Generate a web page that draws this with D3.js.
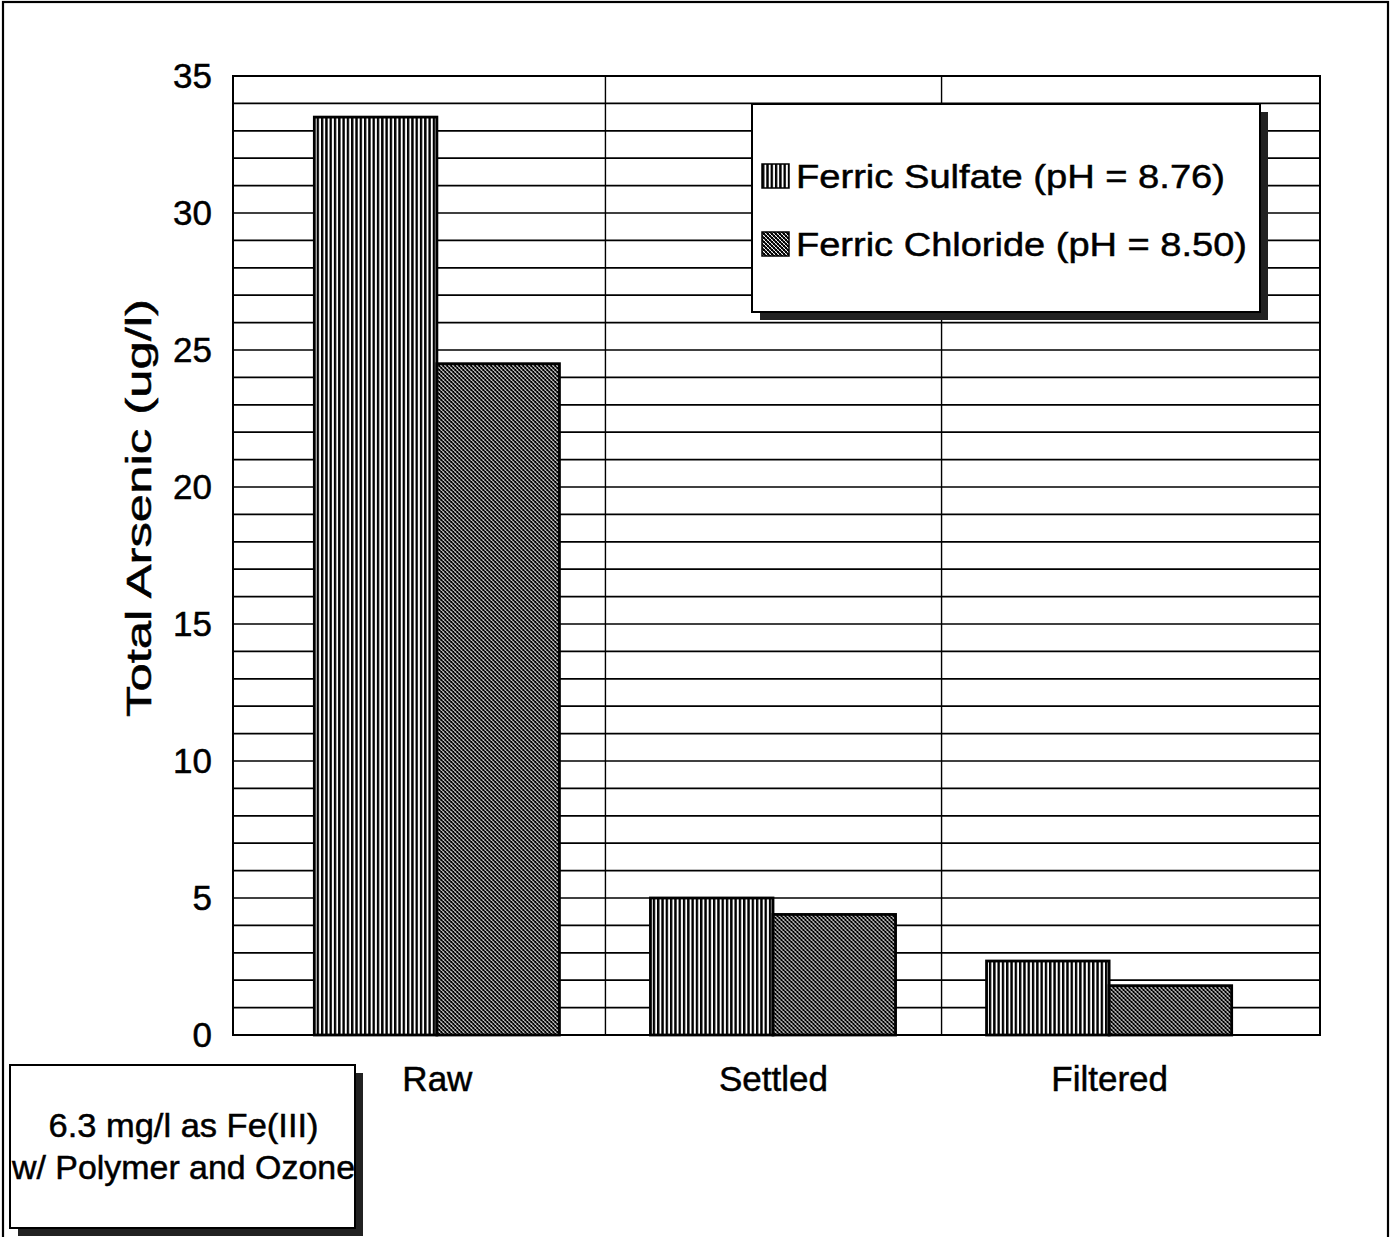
<!DOCTYPE html>
<html>
<head>
<meta charset="utf-8">
<script src="https://cdn.jsdelivr.net/npm/d3@7"></script>
<style>
  html, body { margin: 0; padding: 0; background: #fff; }
  svg { display: block; font-family: "Liberation Sans", Arial, sans-serif; }
</style>
</head>
<body>
<svg id="chart" width="1392" height="1237"></svg>
<script>
const categories = ["Raw", "Settled", "Filtered"];
const seriesNames = ["Ferric Sulfate (pH = 8.76)", "Ferric Chloride (pH = 8.50)"];
const ferricSulfate = [33.5, 5.0, 2.7];
const ferricChloride = [24.5, 4.4, 1.8];
const yTicks = [0, 5, 10, 15, 20, 25, 30, 35];
const yTitle = "Total Arsenic (ug/l)";
const noteLines = ["6.3 mg/l as Fe(III)", "w/ Polymer and Ozone"];

const svg = d3.select("#chart");
const plot = { left: 233, right: 1320, top: 76, bottom: 1035 };
const ink = sel => sel.attr("fill", "#000").attr("stroke", "#000").attr("stroke-width", 0.5);

// patterns
const defs = svg.append("defs");
const pv = defs.append("pattern").attr("id", "pat-vert")
  .attr("patternUnits", "userSpaceOnUse").attr("width", 4.3).attr("height", 10);
pv.append("rect").attr("width", 4.3).attr("height", 10).attr("fill", "#fff");
pv.append("rect").attr("x", 0).attr("width", 2.4).attr("height", 10).attr("fill", "#000");

const pc = defs.append("pattern").attr("id", "pat-cross")
  .attr("patternUnits", "userSpaceOnUse").attr("width", 4).attr("height", 4);
pc.append("rect").attr("width", 4).attr("height", 4).attr("fill", "#fff");
pc.append("path").attr("d", "M0,0 L4,4 M-1,3 L1,5 M3,-1 L5,1")
  .attr("stroke", "#000").attr("stroke-width", 1.6);
pc.append("path").attr("d", "M0,4 L4,0 M-1,1 L1,-1 M3,5 L5,3")
  .attr("stroke", "#000").attr("stroke-width", 1.0);

const patterns = ["url(#pat-vert)", "url(#pat-cross)"];

// outer frame
svg.append("rect").attr("x", 3).attr("y", 2).attr("width", 1385).attr("height", 1240)
  .attr("fill", "none").attr("stroke", "#000").attr("stroke-width", 2.2);

// scales
const y = d3.scaleLinear().domain([0, 35]).range([plot.bottom, plot.top]);
const x0 = d3.scaleBand().domain(categories).range([plot.left - 3, plot.right - 3])
  .paddingInner(0).paddingOuter(0.117);
const x1 = d3.scaleBand().domain(seriesNames).range([45, x0.bandwidth() - 46]).padding(0);

// gridlines every 1 unit
const gridVals = d3.range(0, 36, 1);
svg.append("g").selectAll("line").data(gridVals).join("line")
  .attr("x1", plot.left).attr("x2", plot.right)
  .attr("y1", d => y(d)).attr("y2", d => y(d))
  .attr("stroke", "#000").attr("stroke-width", 1.7);

// vertical category dividers
const dividers = categories.slice(1).map(c => x0(c));
svg.append("g").selectAll("line").data(dividers).join("line")
  .attr("x1", d => d).attr("x2", d => d)
  .attr("y1", plot.top).attr("y2", plot.bottom)
  .attr("stroke", "#000").attr("stroke-width", 1.4);

// plot border
svg.append("rect").attr("x", plot.left).attr("y", plot.top)
  .attr("width", plot.right - plot.left).attr("height", plot.bottom - plot.top)
  .attr("fill", "none").attr("stroke", "#000").attr("stroke-width", 2);

// bars
const data = categories.map((c, i) => ({ cat: c, vals: [ferricSulfate[i], ferricChloride[i]] }));
const groups = svg.append("g").selectAll("g").data(data).join("g")
  .attr("transform", d => `translate(${x0(d.cat)},0)`);
groups.selectAll("rect").data(d => d.vals.map((v, j) => ({ v, j }))).join("rect")
  .attr("x", d => x1(seriesNames[d.j]))
  .attr("width", x1.bandwidth())
  .attr("y", d => y(d.v))
  .attr("height", d => y(0) - y(d.v))
  .attr("fill", d => patterns[d.j])
  .attr("stroke", "#000").attr("stroke-width", 2.8);

// y axis labels
const yAxis = d3.axisLeft(y).tickValues(yTicks).tickSize(0).tickPadding(21);
const ya = svg.append("g").attr("transform", `translate(${plot.left},0)`).call(yAxis);
ya.select(".domain").remove();
ya.selectAll("text").attr("font-size", 35)
  .attr("font-family", "Liberation Sans, Arial, sans-serif").call(ink);

// x axis labels
const xAxis = d3.axisBottom(x0).tickSize(0).tickPadding(31);
const xa = svg.append("g").attr("transform", `translate(0,${plot.bottom})`).call(xAxis);
xa.select(".domain").remove();
xa.selectAll("text").attr("font-size", 35)
  .attr("font-family", "Liberation Sans, Arial, sans-serif").call(ink);

// y title
svg.append("text")
  .attr("transform", "translate(151,508) rotate(-90)")
  .attr("text-anchor", "middle")
  .attr("font-size", 35)
  .attr("textLength", 418).attr("lengthAdjust", "spacingAndGlyphs")
  .call(ink)
  .text(yTitle);

// legend
const lg = { x: 752, y: 104, w: 508, h: 208 };
svg.append("rect").attr("x", lg.x + 8).attr("y", lg.y + 8).attr("width", lg.w).attr("height", lg.h)
  .attr("fill", "#222");
svg.append("rect").attr("x", lg.x).attr("y", lg.y).attr("width", lg.w).attr("height", lg.h)
  .attr("fill", "#fff").attr("stroke", "#000").attr("stroke-width", 2);
const legendLen = [429, 451];
const legendRows = svg.append("g").selectAll("g").data(seriesNames).join("g")
  .attr("transform", (d, i) => `translate(${lg.x + 10},${lg.y + 72 + i * 68})`);
legendRows.append("rect").attr("x", 0).attr("y", -12).attr("width", 27).attr("height", 24)
  .attr("fill", (d, i) => patterns[i]).attr("stroke", "#000").attr("stroke-width", 1.5);
legendRows.append("text").attr("x", 34).attr("y", 0).attr("dy", "0.36em")
  .attr("font-size", 34)
  .attr("textLength", (d, i) => legendLen[i]).attr("lengthAdjust", "spacingAndGlyphs")
  .call(ink).text(d => d);

// note box
const nb = { x: 10, y: 1065, w: 345, h: 163 };
svg.append("rect").attr("x", nb.x + 8).attr("y", nb.y + 8).attr("width", nb.w).attr("height", nb.h)
  .attr("fill", "#222");
svg.append("rect").attr("x", nb.x).attr("y", nb.y).attr("width", nb.w).attr("height", nb.h)
  .attr("fill", "#fff").attr("stroke", "#000").attr("stroke-width", 2);
const noteLen = [270, 343];
svg.append("g").selectAll("text").data(noteLines).join("text")
  .attr("x", nb.x + nb.w / 2 + 1).attr("y", (d, i) => 1137 + i * 42)
  .attr("text-anchor", "middle").attr("font-size", 34)
  .attr("textLength", (d, i) => noteLen[i]).attr("lengthAdjust", "spacingAndGlyphs")
  .call(ink)
  .text(d => d);
</script>
</body>
</html>
